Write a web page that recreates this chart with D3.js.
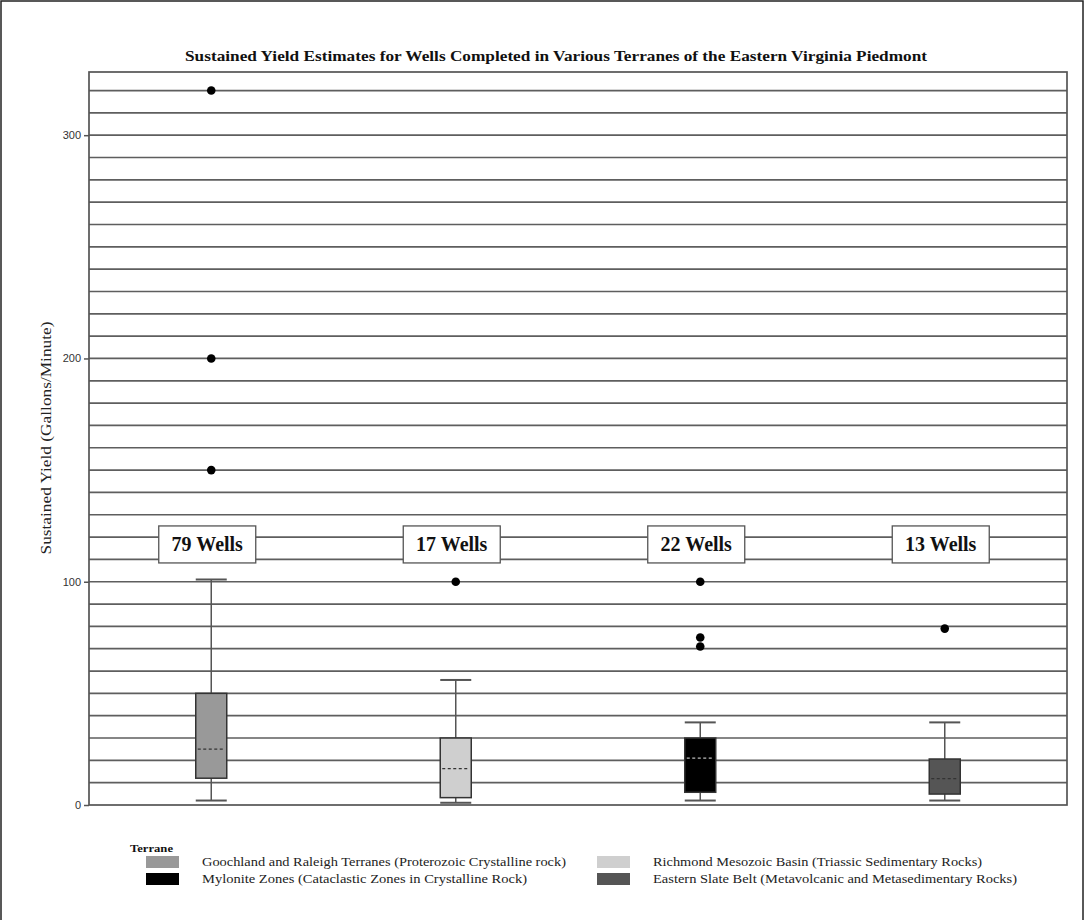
<!DOCTYPE html>
<html><head><meta charset="utf-8">
<script src="https://cdn.jsdelivr.net/npm/d3@7/dist/d3.min.js"></script>
<style>body{margin:0;background:#fff}svg{display:block}</style>
</head><body><svg id="c" width="1091" height="920"></svg>
<script>
const titleText = "Sustained Yield Estimates for Wells Completed in Various Terranes of the Eastern Virginia Piedmont";
const yLabel = "Sustained Yield (Gallons/Minute)";
const categories = ["Goochland and Raleigh Terranes (Proterozoic Crystalline rock)", "Richmond Mesozoic Basin (Triassic Sedimentary Rocks)", "Mylonite Zones (Cataclastic Zones in Crystalline Rock)", "Eastern Slate Belt (Metavolcanic and Metasedimentary Rocks)"];
const colors = ["#999999", "#cfcfcf", "#000000", "#555555"];
const wellCounts = [79, 17, 22, 13];
const whiskerLow = [2, 1, 2, 2];
const q1 = [12, 3.3, 5.7, 4.9];
const median = [25, 16.3, 21, 11.8];
const q3 = [50, 30, 30, 20.6];
const whiskerHigh = [101, 56, 37, 37];
const outliers = [[320, 200, 150], [100], [100, 75, 71], [79]];
const yTicks = [0, 100, 200, 300];
const gridValues = d3.range(10, 330, 10);
const legendOrder = [0, 1, 2, 3];

const svg = d3.select("#c");
const L = 89, R = 1067, T = 72, B = 805;
const x = d3.scaleBand().domain(categories).range([L, R]);
const y = d3.scaleLinear().domain([0, 328.3]).range([B, T]);

// outer frame
svg.append("rect").attr("x", 1).attr("y", 1).attr("width", 1082).attr("height", 960)
  .attr("fill", "none").attr("stroke", "#222").attr("stroke-width", 1.5);

// title
svg.append("text").attr("x", 556).attr("y", 61).attr("text-anchor", "middle")
  .attr("font-family", "Liberation Serif, serif").attr("font-weight", "bold").attr("font-size", 14)
  .attr("textLength", 742).attr("lengthAdjust", "spacingAndGlyphs").attr("fill", "#111").text(titleText);

// gridlines
svg.append("g").selectAll("line").data(gridValues).join("line")
  .attr("x1", L).attr("x2", R).attr("y1", d => y(d)).attr("y2", d => y(d))
  .attr("stroke", "#5e5e5e").attr("stroke-width", 1.7);

// frame
svg.append("rect").attr("x", L).attr("y", T).attr("width", R - L).attr("height", B - T)
  .attr("fill", "none").attr("stroke", "#555").attr("stroke-width", 1.7);

// y axis
const yAxis = d3.axisLeft(y).tickValues(yTicks).tickSize(5).tickPadding(3).tickFormat(d3.format("d"));
const ga = svg.append("g").attr("transform", `translate(${L},0)`).call(yAxis);
ga.select(".domain").remove();
ga.selectAll("line").attr("stroke", "#555").attr("stroke-width", 1.5);
ga.selectAll("text").attr("font-family", "Liberation Sans, sans-serif").attr("font-size", 11).attr("fill", "#333");

svg.append("text").attr("transform", `translate(51,${438}) rotate(-90)`).attr("text-anchor", "middle")
  .attr("font-family", "Liberation Serif, serif").attr("font-size", 14).attr("fill", "#222")
  .attr("textLength", 233).attr("lengthAdjust", "spacingAndGlyphs").text(yLabel);

// boxes
const bw = 31;
const g = svg.append("g");
categories.forEach((c, i) => {
  const cx = x(c) + x.bandwidth() / 2;
  const gg = g.append("g");
  gg.append("line").attr("x1", cx).attr("x2", cx).attr("y1", y(whiskerLow[i])).attr("y2", y(q1[i]))
    .attr("stroke", "#555").attr("stroke-width", 1.5);
  gg.append("line").attr("x1", cx).attr("x2", cx).attr("y1", y(q3[i])).attr("y2", y(whiskerHigh[i]))
    .attr("stroke", "#555").attr("stroke-width", 1.5);
  [whiskerLow[i], whiskerHigh[i]].forEach(v => {
    gg.append("line").attr("x1", cx - bw / 2).attr("x2", cx + bw / 2).attr("y1", y(v)).attr("y2", y(v))
      .attr("stroke", "#555").attr("stroke-width", 2);
  });
  gg.append("rect").attr("x", cx - bw / 2).attr("y", y(q3[i])).attr("width", bw).attr("height", y(q1[i]) - y(q3[i]))
    .attr("fill", colors[i]).attr("stroke", "#333").attr("stroke-width", 1.5);
  gg.append("line").attr("x1", cx - bw / 2 + 2).attr("x2", cx + bw / 2 - 2).attr("y1", y(median[i])).attr("y2", y(median[i]))
    .attr("stroke", i === 2 ? "#bbb" : "#333").attr("stroke-width", 1.2).attr("stroke-dasharray", "3,2.5");
  gg.selectAll("circle").data(outliers[i]).join("circle")
    .attr("cx", cx).attr("cy", d => y(d)).attr("r", 4.3).attr("fill", "#000");
  // well count label
  const lx = cx - 4, ly = y(116.7);
  gg.append("rect").attr("x", lx - 48.5).attr("y", ly - 18.5).attr("width", 97).attr("height", 37)
    .attr("fill", "#fff").attr("stroke", "#555").attr("stroke-width", 1.3);
  gg.append("text").attr("x", lx).attr("y", ly + 6.5).attr("text-anchor", "middle")
    .attr("font-family", "Liberation Serif, serif").attr("font-weight", "bold").attr("font-size", 20)
    .attr("fill", "#111").text(wellCounts[i] + " Wells");
});

// legend
svg.append("text").attr("x", 130).attr("y", 851.5).attr("font-family", "Liberation Serif, serif")
  .attr("font-weight", "bold").attr("font-size", 11).attr("textLength", 43).attr("lengthAdjust", "spacingAndGlyphs")
  .attr("fill", "#111").text("Terrane");
const legendPos = [[146, 856], [597, 856], [146, 873], [597, 873]];
const legendLen = [364, 329, 325, 364];
legendOrder.forEach((i, k) => {
  const [lx, ly] = legendPos[k];
  svg.append("rect").attr("x", lx).attr("y", ly).attr("width", 33).attr("height", 12).attr("fill", colors[i]);
  svg.append("text").attr("x", lx + 56).attr("y", ly + 10).attr("font-family", "Liberation Serif, serif")
    .attr("font-size", 12).attr("fill", "#222").attr("textLength", legendLen[k]).attr("lengthAdjust", "spacingAndGlyphs")
    .text(categories[i]);
});
</script></body></html>
